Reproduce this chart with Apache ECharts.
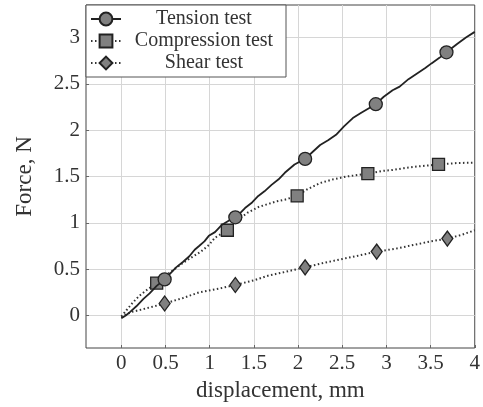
<!DOCTYPE html>
<html>
<head>
<meta charset="utf-8">
<script src="https://cdn.jsdelivr.net/npm/echarts@6/dist/echarts.min.js"></script>
<style>html,body{margin:0;padding:0;background:#fff}#c{width:483px;height:407px}</style>
</head>
<body>
<div id="c"></div>
<script>
var xTicks = [0, 0.5, 1, 1.5, 2, 2.5, 3, 3.5, 4];
var yTicks = [0, 0.5, 1, 1.5, 2, 2.5, 3];

var tensionCurve = [[0.0,-0.03],[0.05,0.0],[0.10,0.04],[0.17,0.10],[0.25,0.18],[0.32,0.24],[0.40,0.32],[0.49,0.39],[0.55,0.45],[0.62,0.52],[0.70,0.58],[0.77,0.64],[0.83,0.71],[0.88,0.75],[0.94,0.80],[0.99,0.86],[1.06,0.90],[1.14,0.98],[1.21,1.02],[1.29,1.06],[1.35,1.11],[1.40,1.16],[1.48,1.22],[1.55,1.29],[1.62,1.34],[1.70,1.41],[1.78,1.47],[1.85,1.54],[1.96,1.63],[2.08,1.69],[2.17,1.77],[2.25,1.84],[2.34,1.89],[2.43,1.95],[2.52,2.04],[2.62,2.13],[2.72,2.19],[2.88,2.28],[2.97,2.36],[3.07,2.43],[3.15,2.47],[3.25,2.55],[3.36,2.62],[3.44,2.67],[3.51,2.72],[3.60,2.78],[3.68,2.84],[3.80,2.93],[3.90,3.00],[4.0,3.06]];
var tensionMarkers = [0.49, 1.29, 2.08, 2.88, 3.68];

var compressionCurve = [[0.0,-0.01],[0.06,0.06],[0.13,0.14],[0.20,0.21],[0.28,0.27],[0.40,0.35],[0.50,0.43],[0.60,0.50],[0.70,0.57],[0.80,0.63],[0.90,0.69],[0.99,0.76],[1.06,0.84],[1.20,0.92],[1.30,1.02],[1.43,1.11],[1.55,1.17],[1.65,1.20],[1.75,1.23],[1.85,1.25],[1.99,1.29],[2.10,1.36],[2.25,1.43],[2.40,1.47],[2.55,1.50],[2.79,1.53],[2.95,1.56],[3.07,1.57],[3.20,1.59],[3.37,1.61],[3.59,1.63],[3.80,1.645],[4.0,1.65]];
var compressionMarkers = [0.40, 1.20, 1.99, 2.79, 3.59];

var shearCurve = [[0.0,-0.02],[0.05,0.01],[0.12,0.04],[0.25,0.07],[0.37,0.10],[0.49,0.13],[0.70,0.19],[0.88,0.25],[1.10,0.29],[1.29,0.33],[1.50,0.38],[1.66,0.43],[1.85,0.47],[2.08,0.52],[2.30,0.57],[2.50,0.61],[2.70,0.65],[2.89,0.69],[3.10,0.72],[3.30,0.76],[3.50,0.80],[3.69,0.83],[3.85,0.87],[4.0,0.92]];
var shearMarkers = [0.49, 1.29, 2.08, 2.89, 3.69];

var seriesNames = ['Tension test', 'Compression test', 'Shear test'];

function build(curve, markers) {
  return curve.map(function (p) {
    var isM = markers.some(function (m) { return Math.abs(m - p[0]) < 1e-9; });
    return isM ? { value: p } : { value: p, symbol: 'none' };
  });
}

var FONT = '"Liberation Serif", "Times New Roman", serif';
var chart = echarts.init(document.getElementById('c'), null, { renderer: 'canvas' });
var markerStyle = { color: '#808080', borderColor: '#222', borderWidth: 1.3 };

chart.setOption({
  animation: false,
  backgroundColor: '#fff',
  grid: { left: 86, right: 3, top: 5, bottom: 58, show: true, borderColor: '#444', borderWidth: 1, containLabel: false },
  xAxis: {
    type: 'value', min: -0.4, max: 4,
    name: 'displacement, mm', nameLocation: 'middle', nameGap: 31,
    nameTextStyle: { fontFamily: FONT, fontSize: 23, color: '#333' },
    axisLine: { show: false, onZero: false },
    axisTick: { show: true, inside: true, length: 3, customValues: xTicks, lineStyle: { color: '#666' } },
    axisLabel: { customValues: xTicks, fontFamily: FONT, fontSize: 21, color: '#333', margin: 5 },
    splitLine: { show: true, lineStyle: { color: '#d6d6d6', width: 1 } }
  },
  yAxis: {
    type: 'value', min: -0.35, max: 3.35,
    name: 'Force, N', nameLocation: 'middle', nameGap: 50,
    nameTextStyle: { fontFamily: FONT, fontSize: 23, color: '#333' },
    axisLine: { show: false, onZero: false },
    axisTick: { show: true, inside: true, length: 3, customValues: yTicks, lineStyle: { color: '#666' } },
    axisLabel: { customValues: yTicks, fontFamily: FONT, fontSize: 21, color: '#333', margin: 6 },
    splitLine: { show: true, lineStyle: { color: '#d6d6d6', width: 1 } }
  },
  legend: {
    orient: 'vertical', left: 86, top: 5,
    backgroundColor: '#fff', borderColor: '#555', borderWidth: 1,
    padding: [4, 4, 4, 4], itemGap: 2, itemWidth: 30, itemHeight: 16,
    formatter: function (n) { return '{c|' + n + '}'; },
    textStyle: { rich: { c: { width: 156, align: 'center', fontFamily: FONT, fontSize: 20, lineHeight: 22, color: '#333' } } },
    data: seriesNames
  },
  series: [
    {
      name: seriesNames[0], type: 'line', symbol: 'circle', symbolSize: 13, showSymbol: true,
      lineStyle: { color: '#222', width: 1.8 }, itemStyle: markerStyle, z: 3,
      data: build(tensionCurve, tensionMarkers)
    },
    {
      name: seriesNames[1], type: 'line', symbol: 'rect', symbolSize: 12, showSymbol: true,
      lineStyle: { color: '#333', width: 2, type: [1.5, 2.5] }, itemStyle: markerStyle, z: 2,
      data: build(compressionCurve, compressionMarkers)
    },
    {
      name: seriesNames[2], type: 'line', symbol: 'diamond', symbolSize: [11, 15], showSymbol: true,
      lineStyle: { color: '#333', width: 2, type: [1.5, 2.5] }, itemStyle: markerStyle, z: 2,
      data: build(shearCurve, shearMarkers)
    }
  ]
});
</script>
</body>
</html>
